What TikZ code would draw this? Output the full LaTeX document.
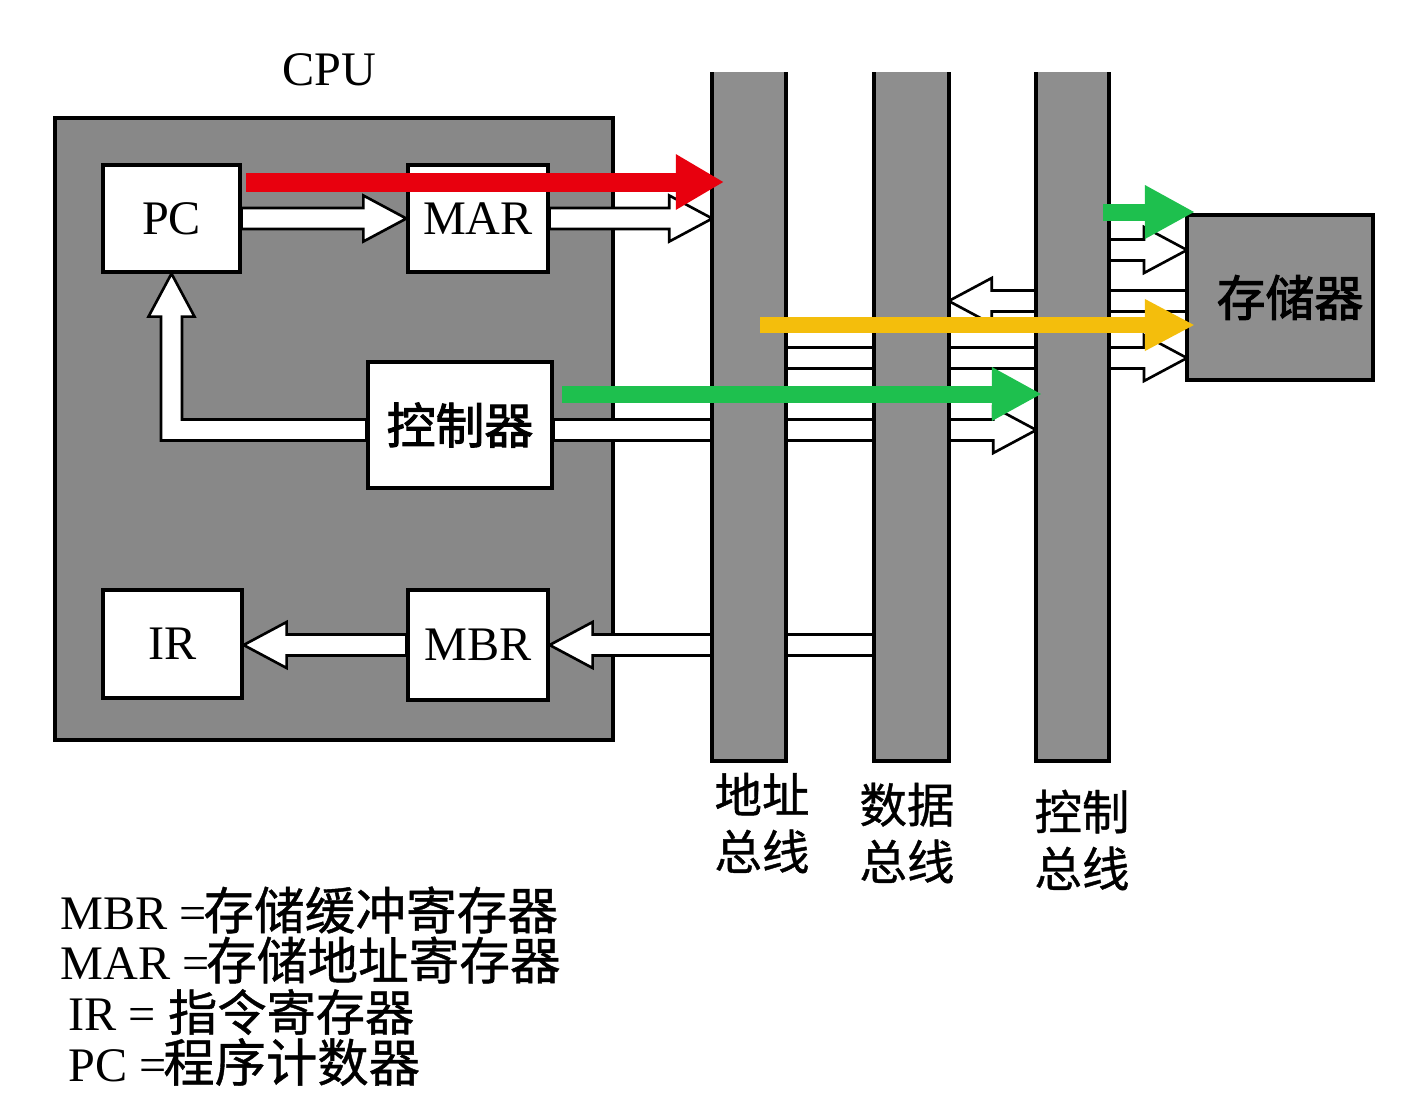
\documentclass[tikz,border=0pt]{standalone}
\usepackage{fontspec}
\setmainfont{Liberation Serif}
\newfontfamily\cjk[FakeBold=0.8]{Noto Sans CJK SC}
\newfontfamily\cjkb[FakeBold=2]{Noto Sans CJK SC}
\usetikzlibrary{arrows.meta,calc}
\definecolor{cpugray}{RGB}{136,136,136}
\definecolor{busgray}{RGB}{142,142,142}
\definecolor{arrred}{RGB}{232,0,14}
\definecolor{arrgreen}{RGB}{30,192,78}
\definecolor{arryellow}{RGB}{244,190,12}
\def\sw{0.105cm}
\def\hh{0.23cm}
\def\hl{0.43cm}
\newcommand\hollowarrow[2]{%
  \draw[hollow] let \p1=#1, \p2=#2, \n1={\x2-ifthenelse(\x2>\x1,1,-1)*\hl} in
    (\x1,\y2+\sw) -- (\n1,\y2+\sw) -- (\n1,\y2+\hh) -- (\x2,\y2)
    -- (\n1,\y2-\hh) -- (\n1,\y2-\sw) -- (\x1,\y2-\sw) -- cycle;}
\tikzset{
  box/.style={draw=black, line width=0.9pt, fill=white, inner sep=0pt},
  lat/.style={font=\fontsize{13.7}{16}\selectfont},
  hollow/.style={draw=black, fill=white, line width=0.75pt, line join=miter},
  busfill/.style={fill=busgray, draw=none, inner sep=0pt, minimum height=6.87cm},
  busedge/.style={draw=black, line width=1.2pt},
  redarrow/.style={draw=arrred, line width=0.19cm, -{Triangle[length=0.48cm,width=0.52cm]}},
  greenarrow/.style={draw=arrgreen, line width=0.17cm, -{Triangle[length=0.50cm,width=0.50cm]}},
  yellowarrow/.style={draw=arryellow, line width=0.16cm, -{Triangle[length=0.50cm,width=0.48cm]}},
  buslabel/.style={align=center, font=\cjk\fontsize{13.5}{16.2}\selectfont, inner sep=0pt},
  legend/.style={anchor=west, inner sep=0pt, font=\fontsize{13.7}{16}\selectfont}
}
\begin{document}
\begin{tikzpicture}[x=0.01cm,y=-0.01cm]
\useasboundingbox (0,0) rectangle (1420,1099);
\fill[white] (0,0) rectangle (1420,1099);

% CPU
\node[lat] (cpulbl) at (329,70) {CPU};
\node[draw=black, line width=1pt, fill=cpugray, minimum width=5.58cm, minimum height=6.22cm, inner sep=0pt] (cpu) at (334,429) {};
\node[box, lat, minimum width=1.37cm, minimum height=1.07cm] (pc) at (171.5,218.5) {PC};
\node[box, lat, minimum width=1.40cm, minimum height=1.07cm] (mar) at (478,218.5) {MAR};
\node[box, minimum width=1.84cm, minimum height=1.26cm, font=\cjkb\fontsize{13.9}{16}\selectfont] (ctrl) at (460,425) {控制器};
\node[box, lat, minimum width=1.39cm, minimum height=1.08cm] (ir) at (172.5,644) {IR};
\node[box, lat, minimum width=1.40cm, minimum height=1.10cm] (mbr) at (478,645) {MBR};

% buses (placed for coordinates)
\path node[busfill, minimum width=0.72cm] (abus) at (749,416.5) {}
      node[busfill, minimum width=0.73cm] (dbus) at (911.5,416.5) {}
      node[busfill, minimum width=0.71cm] (cbus) at (1072.5,416.5) {};

% coordinates for connectors
\coordinate (c3) at (ctrl.west |- 0,430);
\coordinate (c4) at (ctrl.east |- 0,430);
\coordinate (c4t) at (cbus.west |- 0,430);
\coordinate (c7s) at (1187,301);
\coordinate (c7t) at (dbus.east |- 0,301);
\coordinate (c8s) at (abus.east |- 0,358);
\coordinate (c8t) at (1187,358);
\coordinate (c9s) at (cbus.east |- 0,250);
\coordinate (c9t) at (1187,250);

% hollow arrows
\hollowarrow{(pc.east)}{(mar.west)}
\hollowarrow{(mar.east)}{(abus.west |- mar.east)}
\hollowarrow{(c4)}{(c4t)}
\hollowarrow{(dbus.west |- mbr.east)}{(mbr.east)}
\hollowarrow{(mbr.west)}{(ir.east |- mbr.west)}
\hollowarrow{(c7s)}{(c7t)}
\hollowarrow{(c8s)}{(c8t)}
\hollowarrow{(c9s)}{(c9t)}
\draw[hollow] let \p1=(c3), \p2=(pc.south) in
  (\x1,\y1+\sw) -- (\x2+\sw,\y1+\sw) -- (\x2+\sw,\y2-\hl) -- (\x2+\hh,\y2-\hl) -- (\x2,\y2)
  -- (\x2-\hh,\y2-\hl) -- (\x2-\sw,\y2-\hl) -- (\x2-\sw,\y1-\sw) -- (\x1,\y1-\sw) -- cycle;

% buses drawn over arrows
\foreach \b in {abus,dbus,cbus}{
  \fill[busgray] (\b.north west) rectangle (\b.south east);
  \draw[busedge] (\b.north west) -- (\b.south west) -- (\b.south east) -- (\b.north east);
}

% memory
\node[draw=black, line width=0.9pt, fill=busgray, minimum width=1.86cm, minimum height=1.65cm, inner sep=0pt, font=\cjkb\fontsize{13.9}{16}\selectfont] (mem) at (1280,297.5) {\hspace{0.2cm}存储器};

% coloured arrows
\coordinate (r1) at (246,182);
\coordinate (r2) at (724,182);
\coordinate (g1) at (562,394);
\coordinate (g2) at (1042,394);
\coordinate (yy1) at (760,325);
\coordinate (yy2) at (1195,325);
\coordinate (h1) at (1103,212);
\coordinate (h2) at (1195,212);
\draw[redarrow] (r1) -- (r2);
\draw[greenarrow] (g1) -- (g2);
\draw[yellowarrow] (yy1) -- (yy2);
\draw[greenarrow] (h1) -- (h2);

% bus labels
\node[buslabel] (albl) at (762,823) {地址\\总线};
\node[buslabel] (dlbl) at (907,833) {数据\\总线};
\node[buslabel] (clbl) at (1082,840) {控制\\总线};

% legend
\node[legend] (l1) at (60,910) {MBR =\hspace{-1pt}{\cjk\fontsize{14.4}{16}\selectfont 存储缓冲寄存器}};
\node[legend] (l2) at (60,960) {MAR =\hspace{-1pt}{\cjk\fontsize{14.4}{16}\selectfont 存储地址寄存器}};
\node[legend] (l3) at (68,1012) {IR = {\cjk\fontsize{14}{16}\selectfont 指令寄存器}};
\node[legend] (l4) at (68,1062) {PC =\hspace{-1pt}{\cjk\fontsize{14.6}{16}\selectfont 程序计数器}};
\end{tikzpicture}
\end{document}
